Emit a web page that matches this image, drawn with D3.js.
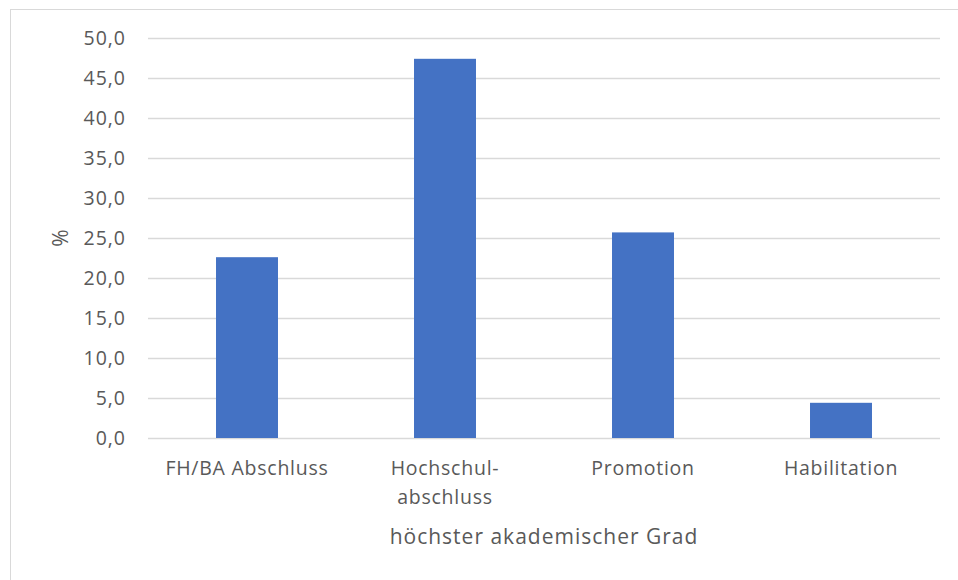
<!DOCTYPE html>
<html>
<head>
<meta charset="utf-8">
<script src="https://cdn.jsdelivr.net/npm/d3@7"></script>
<style>
  body { margin: 0; background: #fff; }
  svg text { font-family: "Open Sans", sans-serif; fill: #595959; }
</style>
</head>
<body>
<svg width="958" height="580"></svg>
<script>
// chart data
const categories = [["FH/BA Abschluss"], ["Hochschul-", "abschluss"], ["Promotion"], ["Habilitation"]];
const values = [22.6, 47.4, 25.7, 4.4];
const yTicks = [0, 5, 10, 15, 20, 25, 30, 35, 40, 45, 50];
const xTitle = "höchster akademischer Grad";
const yTitle = "%";

let svg = d3.select("svg");

// outer chart border
svg.append("rect")
  .attr("x", 10.5).attr("y", 9.5)
  .attr("width", 960).attr("height", 600)
  .attr("fill", "none")
  .attr("stroke", "#d9d9d9");

let margin = { top: 38, left: 148, right: 18, bottom: 142 },
  width = 958 - margin.left - margin.right,
  height = 580 - margin.top - margin.bottom;

let g = svg.append("g")
  .attr("transform", "translate(" + margin.left + "," + margin.top + ")");

let x = d3.scaleBand()
  .domain(categories.map((d, i) => i))
  .range([0, width])
  .paddingInner(0.687)
  .paddingOuter(0.3435);

let y = d3.scaleLinear().domain([0, 50]).range([height, 0]);

// gridlines
g.selectAll(".grid")
  .data(yTicks)
  .enter()
  .append("line")
  .attr("x1", 0).attr("x2", width)
  .attr("y1", d => Math.round(y(d)) + 0.5)
  .attr("y2", d => Math.round(y(d)) + 0.5)
  .attr("stroke", "#d9d9d9")
  .attr("stroke-width", 1.3);

// y tick labels
g.selectAll(".ylab")
  .data(yTicks)
  .enter()
  .append("text")
  .attr("x", -22)
  .attr("y", d => y(d))
  .attr("dy", "0.35em")
  .attr("text-anchor", "end")
  .style("font-size", "19.5px")
  .style("letter-spacing", "1px")
  .text(d => d3.format(".1f")(d).replace(".", ","));

// bars
g.selectAll(".bar")
  .data(values)
  .enter()
  .append("rect")
  .attr("x", (d, i) => x(i))
  .attr("y", d => y(d))
  .attr("width", x.bandwidth())
  .attr("height", d => height - y(d))
  .attr("fill", "#4472c4");

// x labels
let xl = g.selectAll(".xlab")
  .data(categories)
  .enter()
  .append("text")
  .attr("text-anchor", "middle")
  .attr("transform", (d, i) => "translate(" + (x(i) + x.bandwidth() / 2) + "," + (height + 37) + ")")
  .style("font-size", "19.5px")
  .style("letter-spacing", "0.75px");

xl.selectAll("tspan")
  .data(d => d)
  .enter()
  .append("tspan")
  .attr("x", 0)
  .attr("y", (d, i) => i * 29)
  .text(d => d);

// axis titles
svg.append("text")
  .attr("x", margin.left + width / 2)
  .attr("y", 544)
  .attr("text-anchor", "middle")
  .style("font-size", "21px")
  .style("letter-spacing", "1px")
  .text(xTitle);

svg.append("text")
  .attr("transform", "translate(68," + (margin.top + height / 2) + ") rotate(-90)")
  .attr("text-anchor", "middle")
  .style("font-size", "21px")
  .text(yTitle);
</script>
</body>
</html>
